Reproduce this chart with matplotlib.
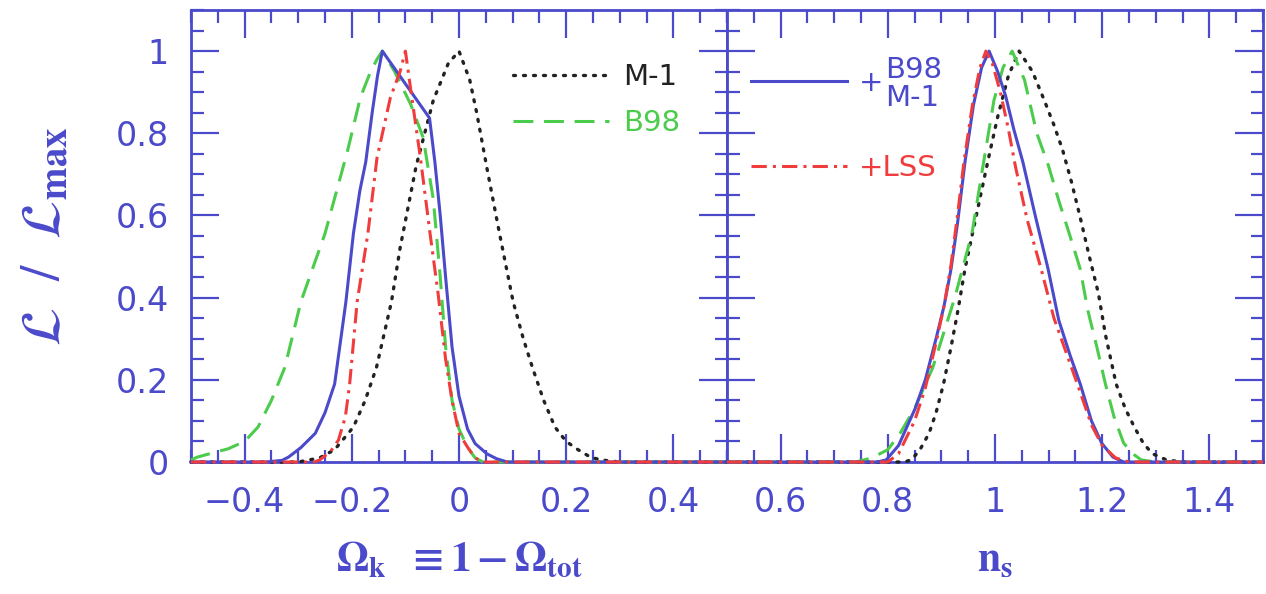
import numpy as np
import matplotlib
matplotlib.use("Agg")
import matplotlib.pyplot as plt
from matplotlib.ticker import MultipleLocator, FuncFormatter

# ---------------- data ----------------
# Left panel: Omega_k
ok_m1_x = [-0.5, -0.30, -0.26, -0.232, -0.197, -0.175, -0.154, -0.126, -0.11, -0.08, -0.048, -0.02, 0.0,
           0.02, 0.033, 0.052, 0.075, 0.101, 0.12, 0.137, 0.158, 0.179, 0.2, 0.222, 0.245, 0.265, 0.30, 0.5]
ok_m1_y = [0, 0, 0.01, 0.03, 0.085, 0.15, 0.23, 0.39, 0.52, 0.72, 0.88, 0.97, 1.0,
           0.93, 0.85, 0.716, 0.56, 0.39, 0.30, 0.23, 0.15, 0.085, 0.05, 0.03, 0.012, 0.005, 0, 0]

ok_b98_x = [-0.5, -0.488, -0.46, -0.431, -0.40, -0.375, -0.35, -0.325, -0.295, -0.25, -0.208, -0.184, -0.165,
            -0.153, -0.143, -0.12, -0.09, -0.067, -0.048, -0.035, -0.025, -0.013, 0.0, 0.016, 0.03, 0.045, 0.5]
ok_b98_y = [0.005, 0.012, 0.022, 0.032, 0.05, 0.085, 0.15, 0.23, 0.39, 0.556, 0.757, 0.887, 0.95,
            0.98, 1.0, 0.95, 0.87, 0.79, 0.64, 0.45, 0.28, 0.15, 0.08, 0.036, 0.01, 0, 0]

ok_comb_x = [-0.5, -0.36, -0.33, -0.318, -0.295, -0.268, -0.25, -0.232, -0.211, -0.197, -0.185, -0.174, -0.162,
             -0.152, -0.143, -0.055, -0.045, -0.035, -0.025, -0.013, 0.0, 0.016, 0.03, 0.052, 0.07, 0.09, 0.5]
ok_comb_y = [0, 0, 0.004, 0.012, 0.035, 0.07, 0.12, 0.19, 0.39, 0.556, 0.66, 0.73, 0.85,
             0.94, 1.0, 0.837, 0.73, 0.60, 0.45, 0.28, 0.16, 0.08, 0.045, 0.02, 0.008, 0.0, 0]

ok_lss_x = [-0.5, -0.27, -0.26, -0.24, -0.225, -0.212, -0.204, -0.19, -0.17, -0.153, -0.128, -0.11, -0.10,
            -0.088, -0.072, -0.054, -0.039, -0.025, -0.013, 0.0, 0.016, 0.03, 0.045, 0.5]
ok_lss_y = [0, 0, 0.005, 0.025, 0.053, 0.11, 0.19, 0.39, 0.556, 0.74, 0.887, 0.95, 1.0,
            0.887, 0.74, 0.556, 0.41, 0.25, 0.15, 0.07, 0.036, 0.01, 0, 0]

# Right panel: n_s
ns_m1_x = [0.5, 0.83, 0.844, 0.86, 0.877, 0.89, 0.904, 0.918, 0.931, 0.944, 0.958, 0.971, 0.988, 1.005,
           1.025, 1.045, 1.07, 1.092, 1.11, 1.126, 1.143, 1.159, 1.176, 1.193, 1.206, 1.226, 1.243, 1.26,
           1.277, 1.294, 1.32, 1.35, 1.5]
ns_m1_y = [0, 0, 0.005, 0.03, 0.07, 0.12, 0.19, 0.28, 0.37, 0.47, 0.556, 0.636, 0.74, 0.84,
           0.94, 1.0, 0.95, 0.88, 0.82, 0.76, 0.68, 0.595, 0.50, 0.41, 0.31, 0.19, 0.13, 0.085,
           0.045, 0.02, 0.005, 0, 0]

ns_b98_x = [0.5, 0.74, 0.77, 0.80, 0.823, 0.85, 0.884, 0.925, 0.957, 0.975, 0.998, 1.015, 1.032, 1.055,
            1.078, 1.1, 1.119, 1.14, 1.159, 1.173, 1.19, 1.206, 1.222, 1.24, 1.257, 1.273, 1.3, 1.5]
ns_b98_y = [0, 0, 0.01, 0.03, 0.07, 0.13, 0.23, 0.40, 0.556, 0.70, 0.88, 0.96, 1.0, 0.93,
            0.80, 0.72, 0.636, 0.55, 0.47, 0.37, 0.28, 0.19, 0.11, 0.046, 0.02, 0.005, 0, 0]

ns_comb_x = [0.5, 0.78, 0.797, 0.82, 0.851, 0.87, 0.89, 0.905, 0.918, 0.93, 0.944, 0.96, 0.975, 0.989,
             1.005, 1.02, 1.035, 1.052, 1.075, 1.099, 1.119, 1.14, 1.159, 1.18, 1.199, 1.22, 1.24, 1.5]
ns_comb_y = [0, 0, 0.005, 0.04, 0.13, 0.20, 0.30, 0.38, 0.47, 0.58, 0.73, 0.87, 0.96, 1.0,
             0.95, 0.89, 0.81, 0.73, 0.60, 0.47, 0.345, 0.26, 0.19, 0.10, 0.046, 0.012, 0, 0]

ns_lss_x = [0.5, 0.80, 0.82, 0.85, 0.87, 0.89, 0.905, 0.918, 0.93, 0.942, 0.958, 0.972, 0.983, 0.995,
            1.01, 1.025, 1.038, 1.06, 1.086, 1.11, 1.14, 1.159, 1.18, 1.2, 1.225, 1.25, 1.5]
ns_lss_y = [0, 0, 0.02, 0.10, 0.18, 0.29, 0.38, 0.48, 0.60, 0.73, 0.87, 0.96, 1.0, 0.97,
            0.90, 0.81, 0.72, 0.59, 0.47, 0.35, 0.24, 0.17, 0.09, 0.04, 0.01, 0, 0]

legend_left = ["M-1", "B98"]
legend_right = ["+", "+LSS"]
combo_text = "B98\nM-1"
xlabel_left = r"$\mathbf{\Omega_k\ \ \equiv 1-\Omega_{tot}}$"
xlabel_right = r"$\mathbf{n_s}$"
ylabel = r"$\mathcal{L}\ \ /\ \ \mathcal{L}_{\mathbf{max}}$"

# ---------------- style ----------------
BLUE = "#4a4acb"
GREEN = "#4ccc4c"
RED = "#f03c3c"
BLACK = "#222222"

plt.rcParams["font.family"] = ["DejaVu Sans"]
plt.rcParams["mathtext.fontset"] = "stix"

fig = plt.figure(figsize=(12.66, 5.94), dpi=100)
W, H = 1266, 594
axL = fig.add_axes([191 / W, (H - 462) / H, 536 / W, 452 / H])
axR = fig.add_axes([727 / W, (H - 462) / H, 536 / W, 452 / H])


def fmt(v, p):
    v = round(v, 6) + 0.0
    return ("%g" % v).replace("-", "\u2212")


for ax, xlo in ((axL, -0.5), (axR, 0.5)):
    ax.set_xlim(xlo, xlo + 1.0)
    ax.set_ylim(0, 1.1)
    ax.xaxis.set_major_locator(MultipleLocator(0.2))
    ax.xaxis.set_minor_locator(MultipleLocator(0.05))
    ax.yaxis.set_major_locator(MultipleLocator(0.2))
    ax.yaxis.set_minor_locator(MultipleLocator(0.05))
    ax.xaxis.set_major_formatter(FuncFormatter(fmt))
    ax.yaxis.set_major_formatter(FuncFormatter(fmt))
    ax.tick_params(which="both", direction="in", top=True, right=True, color=BLUE,
                   width=1.6, labelcolor=BLUE, labelsize=24)
    ax.tick_params(which="major", length=20)
    ax.tick_params(which="minor", length=9)
    ax.tick_params(axis="x", pad=17)
    ax.tick_params(axis="y", pad=16)
    for s in ax.spines.values():
        s.set_color(BLUE)
        s.set_linewidth(2.0)

axR.tick_params(axis="y", labelleft=False)

lw = 2.2
dot_style = (0, (0.6, 2.4))
dash_style = (0, (6.5, 3.5))
dashdot_style = (0, (5, 2, 1, 2))

kw = dict(clip_on=False, zorder=3)
lm1, = axL.plot(ok_m1_x, ok_m1_y, color=BLACK, lw=2.4, ls=dot_style, dash_capstyle="round", **kw)
lb98, = axL.plot(ok_b98_x, ok_b98_y, color=GREEN, lw=lw, ls=dash_style, **kw)
lcomb, = axL.plot(ok_comb_x, ok_comb_y, color=BLUE, lw=lw, **kw)
llss, = axL.plot(ok_lss_x, ok_lss_y, color=RED, lw=lw, ls=dashdot_style, **kw)

rm1, = axR.plot(ns_m1_x, ns_m1_y, color=BLACK, lw=2.4, ls=dot_style, dash_capstyle="round", **kw)
rb98, = axR.plot(ns_b98_x, ns_b98_y, color=GREEN, lw=lw, ls=dash_style, **kw)
rcomb, = axR.plot(ns_comb_x, ns_comb_y, color=BLUE, lw=lw, **kw)
rlss, = axR.plot(ns_lss_x, ns_lss_y, color=RED, lw=lw, ls=dashdot_style, **kw)

legL = axL.legend([lm1, lb98], legend_left, loc="upper left", bbox_to_anchor=(0.60, 0.882),
                  frameon=False, fontsize=21, handlelength=3.3, handletextpad=0.5,
                  labelspacing=0.6, borderpad=0, borderaxespad=0, labelcolor="linecolor")
legR = axR.legend([rcomb, rlss], legend_right, loc="upper left", bbox_to_anchor=(0.045, 0.869),
                  frameon=False, fontsize=21, handlelength=3.3, handletextpad=0.4,
                  labelspacing=1.95, borderpad=0, borderaxespad=0, labelcolor="linecolor")
axR.text(0.295, 0.837, combo_text, transform=axR.transAxes, color=BLUE, fontsize=21,
         va="center", ha="left", linespacing=1.0)

axL.set_xlabel(xlabel_left, color=BLUE, fontsize=30, labelpad=14)
axR.set_xlabel(xlabel_right, color=BLUE, fontsize=30, labelpad=14)
axL.set_ylabel(ylabel, color=BLUE, fontsize=40)
axL.yaxis.set_label_coords(-0.222, 0.498)

fig.savefig("out.png", dpi=100)
